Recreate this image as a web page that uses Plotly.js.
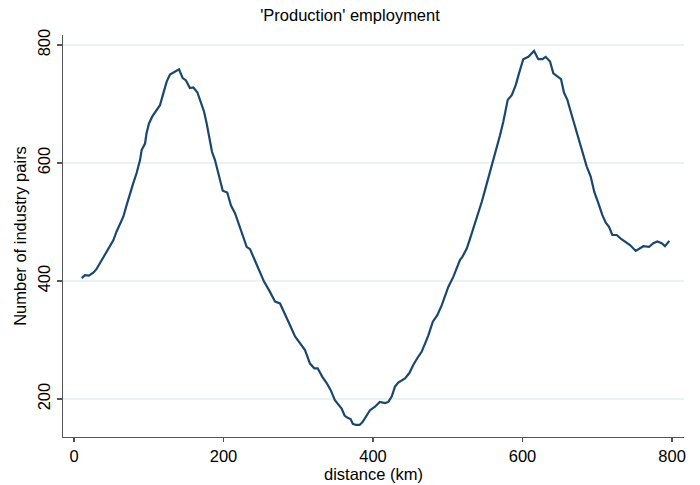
<!DOCTYPE html>
<html>
<head>
<meta charset="utf-8">
<script src="https://cdn.plot.ly/plotly-3.0.1.min.js"></script>
<style>html,body{margin:0;padding:0;background:#fff;}#chart{width:700px;height:485px;}</style>
</head>
<body>
<div id="chart"></div>
<script>
const distanceKm = [10.3,14.7,20,25.8,30,34.8,39,43.7,48,52.6,57,61.5,66,70.5,75,79.3,83.8,88.3,90.5,95,97,100.3,104.8,110.6,115,119.5,124,128.4,133.8,140.5,145.4,149.8,155,159.6,165,169.5,174,177.5,181,184.6,188.6,193,199,205,210,215.4,219.8,225.7,231,235.5,239.9,244.4,248.8,254.2,262,269,275.6,282.3,289,295.7,302.3,309,315.7,321.5,326,332,338,343.4,349,358,362,366,370,373,377,382,386,390,393,396,402.7,409,416,420.5,425,429.4,433.8,438.4,442.8,448.6,454,460.6,465,469.6,474,480,486,492,496.3,500.7,507.4,512,516.4,519.5,525.4,529.8,534.2,540.9,545.4,549.8,554.2,559.6,565.5,569.9,574.3,580.2,585.6,590.9,595.3,601,607.8,615.4,621.1,626.5,631,636.8,641.2,646.6,651.5,655.5,660,664.5,670.2,675.6,681.3,685.9,691.2,696,701.4,706.7,711.3,715.7,720.1,726,731.4,737.1,743.8,751.4,755.9,761.6,769.2,775,780.3,786.2,790.6,796.4];
const industryPairs = [405,410,409,414,420,430,440,450,459,469,484,498,509,529,549,566,583,605,622,633,650,667,679,690,698,718,738,750,754,759,744,740,727,728,720,704,687,667,645,619,605,583,553,550,528,515,498,475,458,454,441,427,416,399,382,365,362,342,325,306,294,283,260,252,252,238,227,215,198,184,172,168,166,158,156,156,161,170,175,181,187,195,193,195,204,221,228,231,235,244,258,272,280,294,308,331,342,359,376,390,407,421,436,441,455,472,489,515,534,554,574,602,625,647,670,707,715,732,752,776,780,790,776,776,780,772,752,747,742,719,707,687,662,636,611,594,577,551,532,512,499,492,478,478,472,467,461,451,454,459,458,464,467,464,459,468];
const xTicks = [0,200,400,600,800];
const yTicks = [200,400,600,800];
const chartTitle = "'Production' employment";
const xLabel = "distance (km)";
const yLabel = "Number of industry pairs";

const fam = "Liberation Sans, Arial, sans-serif";
const fs = 16.5;
Plotly.newPlot('chart', [{
  x: distanceKm, y: industryPairs, type: 'scatter', mode: 'lines',
  line: {color: '#1a476f', width: 2.2}, hoverinfo: 'none'
}], {
  width: 700, height: 485,
  paper_bgcolor: '#fff', plot_bgcolor: '#fff',
  margin: {l: 63, r: 16, t: 35, b: 48},
  showlegend: false,
  font: {family: fam, size: fs, color: '#000'},
  title: {text: chartTitle, x: 0.5, xanchor: 'center', y: 0.98, yanchor: 'top', font: {family: fam, size: fs, color: '#000'}},
  xaxis: {
    range: [-14.7, 816], tickvals: xTicks, ticktext: xTicks.map(String),
    showgrid: false, zeroline: false, showline: true, linecolor: '#555', linewidth: 1.3,
    ticks: 'outside', ticklen: 4, tickcolor: '#555', tickwidth: 1.3,
    tickfont: {family: fam, size: fs, color: '#000'},
    title: {text: xLabel, font: {family: fam, size: fs, color: '#000'}, standoff: 0}
  },
  yaxis: {
    range: [135.6, 817], tickvals: yTicks, ticktext: yTicks.map(String), tickangle: -90,
    showgrid: true, gridcolor: '#eaf2f3', gridwidth: 1.2, zeroline: false,
    showline: true, linecolor: '#555', linewidth: 1.3,
    ticks: 'outside', ticklen: 5, tickcolor: '#555', tickwidth: 1.3,
    tickfont: {family: fam, size: fs, color: '#000'},
    title: {text: yLabel, font: {family: fam, size: fs, color: '#000'}, standoff: 4}
  }
}, {staticPlot: true});
</script>
</body>
</html>
